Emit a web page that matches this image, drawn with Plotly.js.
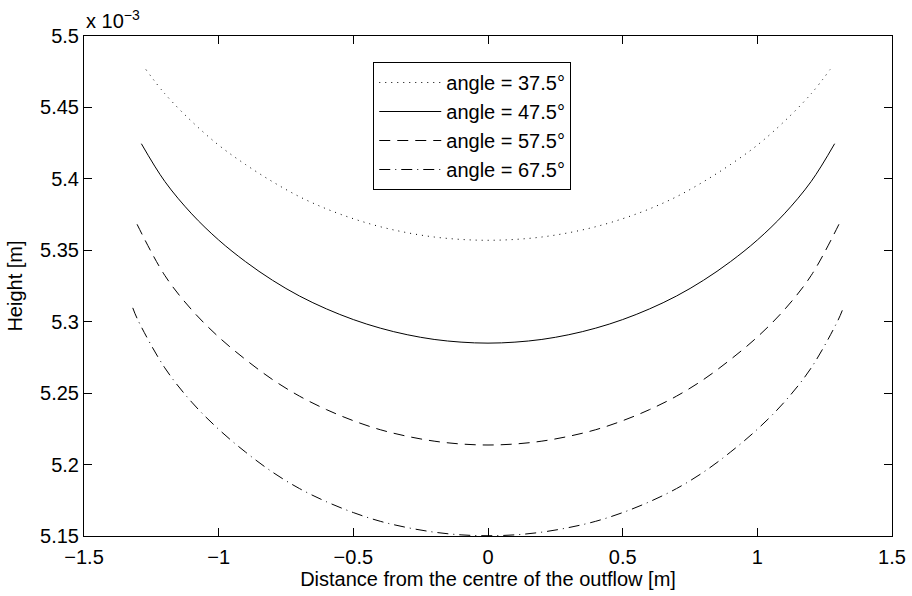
<!DOCTYPE html>
<html>
<head>
<meta charset="utf-8">
<script src="https://cdn.plot.ly/plotly-3.0.1.min.js"></script>
<style>
  html, body { margin: 0; padding: 0; background: #fff; }
  #plot { width: 912px; height: 596px; }
</style>
</head>
<body>
<div id="plot"></div>
<script>
// Free-surface height profiles across the outflow for four inclination angles.
// Heights are given in units of 1e-3 m (see the axis multiplier).
const seriesNames = ['angle = 37.5°', 'angle = 47.5°', 'angle = 57.5°', 'angle = 67.5°'];

const xAngle375 = [-1.27, -1.2, -1.1, -1.0, -0.9, -0.8, -0.7, -0.6, -0.5, -0.4, -0.3, -0.2, -0.1, 0,
                   0.1, 0.2, 0.3, 0.4, 0.5, 0.6, 0.7, 0.8, 0.9, 1.0, 1.1, 1.2, 1.27];
const hAngle375 = [5.4765, 5.4596, 5.4402, 5.4236, 5.4100, 5.3980, 5.3875, 5.3790, 5.3721, 5.3665, 5.3623, 5.3593, 5.3576, 5.3570,
                   5.3576, 5.3593, 5.3623, 5.3665, 5.3721, 5.3790, 5.3875, 5.3980, 5.4100, 5.4236, 5.4402, 5.4596, 5.4765];

const xAngle475 = [-1.287, -1.2, -1.1, -1.0, -0.9, -0.8, -0.7, -0.6, -0.5, -0.4, -0.3, -0.2, -0.1, 0,
                   0.1, 0.2, 0.3, 0.4, 0.5, 0.6, 0.7, 0.8, 0.9, 1.0, 1.1, 1.2, 1.287];
const hAngle475 = [5.4246, 5.3982, 5.3755, 5.3572, 5.3420, 5.3290, 5.3180, 5.3090, 5.3015, 5.2955, 5.2909, 5.2876, 5.2857, 5.2850,
                   5.2857, 5.2876, 5.2909, 5.2955, 5.3015, 5.3090, 5.3180, 5.3290, 5.3420, 5.3572, 5.3755, 5.3982, 5.4246];

const xAngle575 = [-1.303, -1.2, -1.1, -1.0, -0.9, -0.8, -0.7, -0.6, -0.5, -0.4, -0.3, -0.2, -0.1, 0,
                   0.1, 0.2, 0.3, 0.4, 0.5, 0.6, 0.7, 0.8, 0.9, 1.0, 1.1, 1.2, 1.303];
const hAngle575 = [5.3682, 5.3324, 5.3083, 5.2893, 5.2735, 5.2595, 5.2479, 5.2385, 5.2307, 5.2244, 5.2198, 5.2164, 5.2144, 5.2137,
                   5.2144, 5.2164, 5.2198, 5.2244, 5.2307, 5.2385, 5.2479, 5.2595, 5.2735, 5.2893, 5.3083, 5.3324, 5.3682];

const xAngle675 = [-1.319, -1.3, -1.2, -1.1, -1.0, -0.9, -0.8, -0.7, -0.6, -0.5, -0.4, -0.3, -0.2, -0.1, 0,
                   0.1, 0.2, 0.3, 0.4, 0.5, 0.6, 0.7, 0.8, 0.9, 1.0, 1.1, 1.2, 1.3, 1.319];
const hAngle675 = [5.3097, 5.3012, 5.2677, 5.2437, 5.2247, 5.2087, 5.1947, 5.1832, 5.1740, 5.1664, 5.1603, 5.1559, 5.1527, 5.1508, 5.1502,
                   5.1508, 5.1527, 5.1559, 5.1603, 5.1664, 5.1740, 5.1832, 5.1947, 5.2087, 5.2247, 5.2437, 5.2677, 5.3012, 5.3097];

const xTickVals = [-1.5, -1, -0.5, 0, 0.5, 1, 1.5];
const xTickText = ['\u22121.5', '\u22121', '\u22120.5', '0', '0.5', '1', '1.5'];
const yTickVals = [5.15, 5.2, 5.25, 5.3, 5.35, 5.4, 5.45, 5.5];
const yTickText = ['5.15', '5.2', '5.25', '5.3', '5.35', '5.4', '5.45', '5.5'];

const FONT = 'Liberation Sans, Arial, Helvetica, sans-serif';
const lineStyles = ['1px,5px', 'solid', '11px,7px', '11px,5px,1px,5px'];
const xs = [xAngle375, xAngle475, xAngle575, xAngle675];
const hs = [hAngle375, hAngle475, hAngle575, hAngle675];

const traces = seriesNames.map((name, i) => ({
  x: xs[i], y: hs[i], name: name, type: 'scatter', mode: 'lines',
  line: { color: '#000', width: 1, dash: lineStyles[i], shape: 'spline', smoothing: 1 }
}));

const axisCommon = {
  showline: true, linecolor: '#000', linewidth: 1, mirror: 'ticks',
  ticks: 'inside', ticklen: 8, tickwidth: 1, tickcolor: '#000',
  showgrid: false, zeroline: false,
  tickfont: { family: FONT, size: 20, color: '#000' }
};

const layout = {
  width: 912, height: 596,
  margin: { l: 84, r: 20, t: 36, b: 60 },
  paper_bgcolor: '#fff', plot_bgcolor: '#fff',
  font: { family: FONT, size: 20, color: '#000' },
  showlegend: true,
  legend: {
    x: 0.358, y: 0.948, xanchor: 'left', yanchor: 'top',
    bgcolor: '#fff', bordercolor: '#000', borderwidth: 1,
    font: { family: FONT, size: 20, color: '#000' },
    itemwidth: 62
  },
  xaxis: Object.assign({}, axisCommon, {
    range: [-1.5, 1.5], tickvals: xTickVals, ticktext: xTickText,
    ticklabelstandoff: 3,
    title: { text: 'Distance from the centre of the outflow [m]', font: { family: FONT, size: 20 }, standoff: 4 }
  }),
  yaxis: Object.assign({}, axisCommon, {
    range: [5.15, 5.5], tickvals: yTickVals, ticktext: yTickText,
    title: { text: 'Height [m]', font: { family: FONT, size: 20 }, standoff: 12 }
  }),
  annotations: [{
    xref: 'paper', yref: 'paper', x: 0, y: 1, xanchor: 'left', yanchor: 'bottom',
    showarrow: false, yshift: 2,
    text: 'x 10<sup>\u22123</sup>', font: { family: FONT, size: 20, color: '#000' }
  }]
};

Plotly.newPlot('plot', traces, layout, { displayModeBar: false, staticPlot: true });
</script>
</body>
</html>
